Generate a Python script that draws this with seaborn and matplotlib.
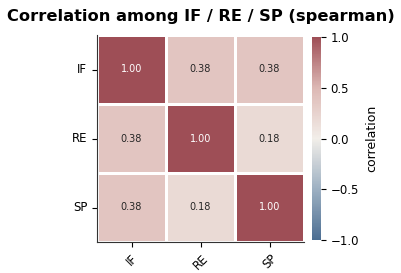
import numpy as np
import pandas as pd
import seaborn as sns
import matplotlib
matplotlib.use("Agg")
import matplotlib.pyplot as plt
from matplotlib.colors import LinearSegmentedColormap

labels = ["IF", "RE", "SP"]
corr_values = [
    [1.00, 0.38, 0.38],
    [0.38, 1.00, 0.18],
    [0.38, 0.18, 1.00],
]
cbar_ticks = [-1.0, -0.5, 0.0, 0.5, 1.0]

# muted blue-white-red
cmap = LinearSegmentedColormap.from_list(
    "muted_vlag",
    ["#4c6e92", "#9db0c2", "#f2eee9", "#ddb8b4", "#9e4e56"],
)

corr = pd.DataFrame(corr_values, index=labels, columns=labels)

fig = plt.figure(figsize=(4.01, 2.73), dpi=100)
ax = fig.add_axes([97 / 401, 1 - 242 / 273, 207 / 401, 207 / 273])
cax = fig.add_axes([312 / 401, 1 - 240 / 273, 9 / 401, 203 / 273])
sns.heatmap(
    corr, ax=ax, cbar_ax=cax, cmap=cmap, vmin=-1, vmax=1, center=0,
    annot=True, fmt=".2f", annot_kws={"size": 7},
    linewidths=0.8, linecolor="white",
    cbar_kws={"label": "correlation", "ticks": cbar_ticks},
)
ax.set_title("Correlation among IF / RE / SP (spearman)", fontsize=11.7,
             fontweight="bold", pad=10)
ax.set_xlabel("")
ax.set_ylabel("")
plt.setp(ax.get_xticklabels(), rotation=45, fontsize=8.5)
plt.setp(ax.get_yticklabels(), rotation=0, fontsize=8.5)
for s in ["left", "bottom"]:
    ax.spines[s].set_visible(True)
    ax.spines[s].set_color("#333333")
cax.tick_params(labelsize=8.5)
cax.yaxis.label.set_size(9)
cbar = ax.collections[0].colorbar
cbar.outline.set_visible(True)
cbar.outline.set_edgecolor("#333333")
plt.savefig("out.png", dpi=100)
